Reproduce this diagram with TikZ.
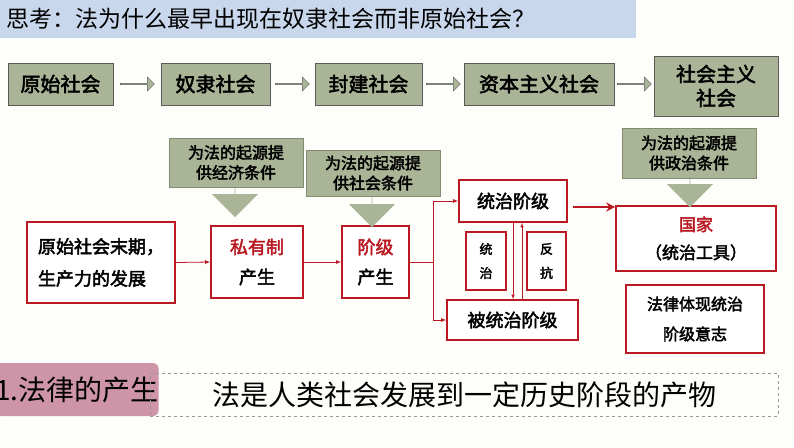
\documentclass[tikz,border=0pt]{standalone}
\usepackage{fontspec}
\setmainfont{Noto Sans CJK SC}[AutoFakeBold=2.5]
\usetikzlibrary{shapes.arrows,arrows.meta}
\definecolor{olive}{RGB}{170,180,150}
\definecolor{darkred}{RGB}{185,25,35}
\definecolor{banner}{RGB}{200,215,235}
\definecolor{pinkbox}{RGB}{206,148,168}
\tikzset{
  stage/.style={draw={rgb,255:red,90;green,90;blue,90},fill=olive,line width=1pt,font=\bfseries\fontsize{20}{24}\selectfont,align=center,inner sep=0pt},
  redbox/.style={draw=darkred,fill=white,line width=1.6pt,font=\bfseries\fontsize{18}{30}\selectfont,align=center,inner sep=0pt},
  note/.style={fill=olive,draw={rgb,255:red,130;green,140;blue,115},font=\bfseries\fontsize{16}{20}\selectfont,align=center,inner sep=0pt},
  flow/.style={draw=darkred,line width=0.8pt,-latex},
  fatarrow/.style={single arrow,draw={rgb,255:red,90;green,90;blue,90},fill=olive,minimum height=34pt,minimum width=14pt,single arrow head extend=2pt,inner sep=0pt},
  downarrow/.style={single arrow,shape border rotate=270,fill=olive,minimum width=46pt,single arrow head extend=12pt,inner sep=0pt}
}
\begin{document}
\begin{tikzpicture}[x=1pt,y=-1pt]
\useasboundingbox[fill={rgb,255:red,253;green,253;blue,250}] (0,0) rectangle (794,447);

% banner
\fill[banner] (0,0) rectangle (636,38);
\node[anchor=west,font=\fontsize{23}{26}\selectfont,inner sep=0pt] (title) at (6,19) {思考：法为什么最早出现在奴隶社会而非原始社会？};

% stages
\node[stage,minimum width=105pt,minimum height=42pt] (s1) at (60.5,84) {原始社会};
\node[stage,minimum width=109pt,minimum height=42pt] (s2) at (215.5,84) {奴隶社会};
\node[stage,minimum width=107pt,minimum height=42pt] (s3) at (368.5,84) {封建社会};
\node[stage,minimum width=150pt,minimum height=42pt] (s4) at (539,84) {资本主义社会};
\node[stage,minimum width=124pt,minimum height=60pt] (s5) at (716,86) {社会主义\\社会};
\node[fatarrow] (a1) at (137,84) {};
\node[fatarrow] (a2) at (292,84) {};
\node[fatarrow] (a3) at (443,84) {};
\node[fatarrow] (a4) at (634,84) {};

% red boxes
\node[redbox,minimum width=148pt,minimum height=81pt,align=left,font=\bfseries\fontsize{18}{32}\selectfont] (prim) at (101,262.5) {原始社会末期，\\生产力的发展};
\node[redbox,minimum width=92pt,minimum height=72pt] (priv) at (257,262) {\textcolor{darkred}{私有制}\\产生};
\node[redbox,minimum width=67pt,minimum height=72pt] (cls) at (375.5,262) {\textcolor{darkred}{阶级}\\产生};
\node[redbox,minimum width=108pt,minimum height=42pt] (rule) at (513,201) {统治阶级};
\node[redbox,minimum width=131pt,minimum height=40pt] (ruled) at (512.5,320) {被统治阶级};
\node[redbox,line width=1.2pt,minimum width=40pt,minimum height=58pt,font=\bfseries\fontsize{13}{24}\selectfont] (tz) at (486,261) {统\\治};
\node[redbox,line width=1.2pt,minimum width=39pt,minimum height=58pt,font=\bfseries\fontsize{13}{24}\selectfont] (fk) at (546.5,261) {反\\抗};
\node[redbox,minimum width=160pt,minimum height=65pt,font=\bfseries\fontsize{17}{28}\selectfont] (state) at (696,238.5) {\textcolor{darkred}{国家}\\（统治工具）};
\node[redbox,minimum width=138pt,minimum height=68pt,font=\bfseries\fontsize{16}{30}\selectfont] (law) at (695,319) {法律体现统治\\阶级意志};

% notes
\node[downarrow,minimum height=30pt] (d1) at (235,202) {};
\node[note,minimum width=134pt,minimum height=49pt] (n1) at (236,162.5) {为法的起源提\\供经济条件};
\node[downarrow,minimum height=32pt] (d2) at (372,211) {};
\node[note,minimum width=134pt,minimum height=46pt] (n2) at (373,173) {为法的起源提\\供社会条件};
\node[downarrow,minimum height=30pt] (d3) at (690,192) {};
\node[note,minimum width=134pt,minimum height=50pt] (n3) at (689,153) {为法的起源提\\供政治条件};

% connectors
\draw[flow] (prim.east) -- (priv.west);
\draw[flow] (priv.east) -- (cls.west);
\coordinate (fork) at (433,262);
\coordinate (down) at (513,0);
\coordinate (up) at (522,0);
\draw[draw=darkred,line width=0.8pt] (cls.east) -- (fork);
\draw[flow] (fork) |- (rule.west);
\draw[flow] (fork) |- (ruled.west);
\draw[flow,line width=0.6pt] (down |- rule.south) -- (down |- ruled.north);
\draw[flow,line width=0.6pt] (up |- ruled.north) -- (up |- rule.south);
\draw[draw=darkred,line width=1.8pt,-{Stealth[length=9pt,width=9pt]}] ([xshift=5pt,yshift=-6pt]rule.east) -- ([yshift=-6pt]rule.east -| state.west);

% bottom
\node[fill=pinkbox,rounded corners=6pt,minimum width=142pt,minimum height=53pt,font=\fontsize{28}{32}\selectfont,inner sep=0pt] (topic) at (77,389.5) {1.法律的产生};
\node[draw={rgb,255:red,150;green,150;blue,150},dashed,minimum width=628pt,minimum height=43pt,font=\fontsize{28}{32}\selectfont,inner sep=0pt] (fact) at (464,394.5) {法是人类社会发展到一定历史阶段的产物};
\end{tikzpicture}
\end{document}
